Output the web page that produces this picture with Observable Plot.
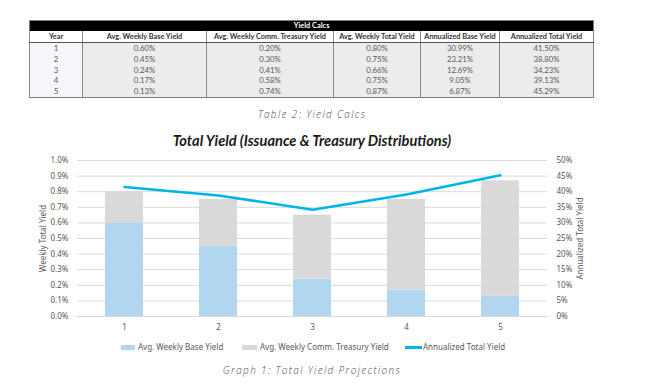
<!DOCTYPE html>
<html><head><meta charset="utf-8">
<script src="https://cdn.jsdelivr.net/npm/d3@7"></script>
<script src="https://cdn.jsdelivr.net/npm/@observablehq/plot@0.6"></script>
<style>
body{margin:0;background:#fff;}
#page{position:relative;width:652px;height:389px;overflow:hidden;font-family:"Noto Sans",sans-serif;}
#tbl{position:absolute;left:29px;top:20px;width:564px;border-collapse:collapse;table-layout:fixed;font-family:Lato,"Noto Sans",sans-serif;font-size:7.8px;color:#595959;border:1px solid #7f7f7f;}
#tbl td,#tbl th{padding:0;text-align:center;white-space:nowrap;overflow:hidden;}
#tbl .ttl th{background:#000;color:#fff;font-weight:bold;height:10px;line-height:10px;font-size:7.4px;}
#tbl .hdr th{background:#fff;color:#333;font-weight:bold;height:11px;line-height:11px;font-size:7.3px;border-left:1px solid #8a8a8a;border-bottom:1px solid #555;}
#tbl td{background:#ececec;height:10.8px;line-height:10.8px;border-left:1px solid #8a8a8a;}
#tbl td.yr{background:#f5f5fa;}
.cap{position:absolute;left:0;width:624px;text-align:center;font-family:"Open Sans",sans-serif;font-style:italic;font-weight:300;font-size:10px;letter-spacing:1.35px;color:#4d4d4d;}
#title{position:absolute;left:0;width:624px;top:132px;text-align:center;font-family:Lato,sans-serif;font-style:italic;font-weight:bold;font-size:14.6px;color:#1a1a1a;}
#chart{position:absolute;left:0;top:150px;}
.lg{position:absolute;top:342px;font-size:8px;color:#595959;line-height:10px;white-space:nowrap;}
.sw{position:absolute;}
</style></head>
<body><div id="page">
<table id="tbl"></table>
<div class="cap" style="top:107px">Table 2: Yield Calcs</div>
<div id="title">Total Yield (Issuance &amp; Treasury Distributions)</div>
<div id="chart"></div>
<div id="legend"></div>
<div class="cap" style="top:363px">Graph 1: Total Yield Projections</div>
</div>
<script>
const years = [1, 2, 3, 4, 5];
const baseYield = [0.60, 0.45, 0.24, 0.17, 0.13];
const treasuryYield = [0.20, 0.30, 0.41, 0.58, 0.74];
const totalYield = [0.80, 0.75, 0.66, 0.75, 0.87];
const annualBase = [30.99, 23.21, 12.69, 9.05, 6.87];
const annualTotal = [41.50, 38.80, 34.23, 39.13, 45.29];
const headers = ["Year", "Avg. Weekly Base Yield", "Avg. Weekly Comm. Treasury Yield", "Avg. Weekly Total Yield", "Annualized Base Yield", "Annualized Total Yield"];
const colWidths = [53, 124, 127, 87, 79, 94];
const seriesNames = ["Avg. Weekly Base Yield", "Avg. Weekly Comm. Treasury Yield", "Annualized Total Yield"];
const leftTicks = [0, 0.1, 0.2, 0.3, 0.4, 0.5, 0.6, 0.7, 0.8, 0.9, 1.0];
const rightPerLeft = 50; // 1.0% weekly ↔ 50% annualized

// table
const tbl = d3.select("#tbl");
const cg = tbl.append("colgroup");
colWidths.forEach(w => cg.append("col").style("width", w + "px"));
tbl.append("tr").attr("class", "ttl").append("th").attr("colspan", 6).text("Yield Calcs");
const hr = tbl.append("tr").attr("class", "hdr");
headers.forEach(h => hr.append("th").text(h));
const pct = v => v.toFixed(2) + "%";
years.forEach((y, i) => {
  const tr = tbl.append("tr");
  tr.append("td").attr("class", "yr").text(y);
  [baseYield[i], treasuryYield[i], totalYield[i], annualBase[i], annualTotal[i]].forEach(v => tr.append("td").text(pct(v)));
});

// chart
const stackRows = years.flatMap((y, i) => [
  {year: y, series: seriesNames[0], value: baseYield[i]},
  {year: y, series: seriesNames[1], value: treasuryYield[i]}
]);
const lineRows = years.map((y, i) => ({year: y, annual: annualTotal[i]}));
const colors = ["#b3d6f0", "#d9d9d9", "#00b4ea"];

const chart = Plot.plot({
  width: 652, height: 190,
  marginLeft: 77, marginRight: 105, marginTop: 10, marginBottom: 24,
  style: {fontFamily: "Noto Sans", fontSize: "8px", color: "#595959", background: "transparent", overflow: "visible"},
  x: {type: "band", domain: years, paddingInner: 0.6, paddingOuter: 0.3, label: null},
  y: {domain: [0, 1], label: null},
  color: {domain: seriesNames.slice(0, 2), range: colors.slice(0, 2)},
  marks: [
    Plot.gridY(leftTicks, {stroke: "#d9d9d9", strokeOpacity: 1}),
    Plot.barY(stackRows, {x: "year", y: "value", fill: "series"}),
    Plot.line(lineRows, {x: "year", y: d => d.annual / rightPerLeft, stroke: colors[2], strokeWidth: 2.5}),
    Plot.axisY(leftTicks, {anchor: "left", tickSize: 0, tickPadding: 9, tickFormat: d => d.toFixed(1) + "%", label: "Weekly Total Yield", labelAnchor: "center", labelOffset: 37, labelArrow: "none"}),
    Plot.axisY(leftTicks, {anchor: "right", tickSize: 0, tickPadding: 9, tickFormat: d => Math.round(d * rightPerLeft) + "%", label: "Annualized Total Yield", labelAnchor: "center", labelOffset: 35, labelArrow: "none"}),
    Plot.axisX({tickSize: 0, tickPadding: 8, label: null})
  ]
});
document.getElementById("chart").appendChild(chart);

// legend
const lg = d3.select("#legend");
const items = [
  {sw: [121, 345, 14, 5], tx: 138},
  {sw: [242, 345, 15, 5], tx: 260},
  {sw: [405, 346, 17, 2.5], tx: 423}
];
items.forEach((it, i) => {
  lg.append("div").attr("class", "sw").style("left", it.sw[0] + "px").style("top", it.sw[1] + "px")
    .style("width", it.sw[2] + "px").style("height", it.sw[3] + "px").style("background", colors[i]);
  lg.append("div").attr("class", "lg").style("left", it.tx + "px").text(seriesNames[i]);
});
</script>
</body></html>
